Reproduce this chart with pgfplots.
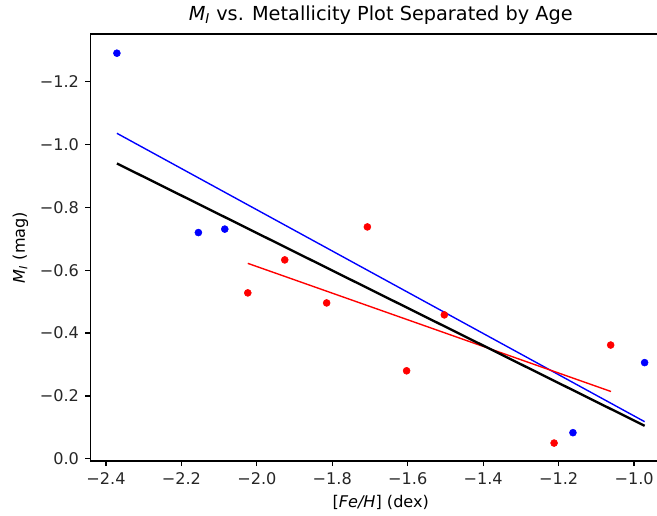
\documentclass[border=0pt]{standalone}
\usepackage{pgfplots}
\pgfplotsset{compat=1.18}
\usepackage{fontspec}
\setmainfont{DejaVu Sans}
\begin{document}
\begin{tikzpicture}
\begin{axis}[
  scale only axis,
  width=418pt, height=307.4pt,
  xmin=-2.441, xmax=-0.902,
  ymin=-1.352, ymax=0.007,
  y dir=reverse,
  axis line style={line width=0.9pt},
  tick style={line width=0.9pt, black},
  major tick length=3.8pt,
  tick align=outside,
  xtick pos=bottom, ytick pos=left,
  xtick={-2.4,-2.2,-2.0,-1.8,-1.6,-1.4,-1.2,-1.0},
  xticklabels={−2.4,−2.2,−2.0,−1.8,−1.6,−1.4,−1.2,−1.0},
  ytick={0,-0.2,-0.4,-0.6,-0.8,-1.0,-1.2},
  yticklabels={0.0,−0.2,−0.4,−0.6,−0.8,−1.0,−1.2},
  ticklabel style={font=\fontsize{11.6}{13}\selectfont, text=black!85},
  xticklabel style={yshift=-1pt},
  yticklabel style={xshift=-1pt},
  title={{\itshape M}\textsubscript{\itshape I} vs. Metallicity Plot Separated by Age},
  title style={font=\fontsize{13.9}{16}\selectfont, yshift=-3pt},
  xlabel={[{\itshape Fe/H}] (dex)},
  ylabel={{\itshape M}\textsubscript{\itshape I} (mag)},
  label style={font=\fontsize{11.6}{13}\selectfont},
  xlabel style={yshift=-0.5pt},
  ylabel style={yshift=1.5pt},
]
% blue points
\addplot[only marks, mark=*, mark size=2.5pt, color=blue, mark options={draw=blue, fill=blue}] coordinates {
  (-2.371,-1.291) (-2.155,-0.720) (-2.085,-0.731) (-1.162,-0.083) (-0.972,-0.306)
};
% red points
\addplot[only marks, mark=*, mark size=2.5pt, color=red, mark options={draw=red, fill=red}] coordinates {
  (-2.024,-0.528) (-1.926,-0.633) (-1.815,-0.496) (-1.707,-0.738)
  (-1.603,-0.280) (-1.503,-0.458) (-1.212,-0.050) (-1.062,-0.362)
};
% fits
\addplot[blue, line width=1pt] coordinates {(-2.371,-1.036) (-0.972,-0.118)};
\addplot[red, line width=1pt] coordinates {(-2.024,-0.622) (-1.061,-0.214)};
\addplot[black, line width=1.7pt] coordinates {(-2.371,-0.940) (-0.972,-0.105)};
\end{axis}
\pgfresetboundingbox
\useasboundingbox (-65.16pt,-39.6pt) rectangle (407.9pt,331.9pt);
\end{tikzpicture}
\end{document}
